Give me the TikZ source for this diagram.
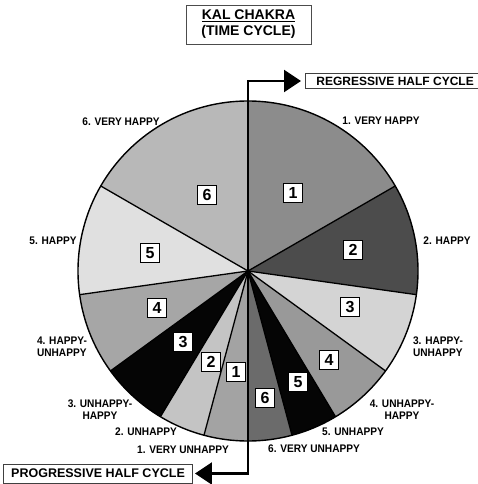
\documentclass[tikz,border=0pt]{standalone}
\usepackage{fontspec}
\setmainfont{Liberation Sans}
\usetikzlibrary{arrows.meta,positioning}

\definecolor{rone}{gray}{0.55}
\definecolor{rtwo}{gray}{0.30}
\definecolor{rthree}{gray}{0.83}
\definecolor{rfour}{gray}{0.60}
\definecolor{rfive}{gray}{0.02}
\definecolor{rsix}{gray}{0.42}
\definecolor{lone}{gray}{0.64}
\definecolor{ltwo}{gray}{0.77}
\definecolor{lthree}{gray}{0.02}
\definecolor{lfour}{gray}{0.65}
\definecolor{lfive}{gray}{0.88}
\definecolor{lsix}{gray}{0.72}

\newcommand{\pierad}{170}
\newcommand{\pieslice}[3]{\fill[#3] (O) -- (#1:\pierad) arc[start angle=#1,end angle=#2,radius=\pierad] -- cycle;}

\tikzset{
  lbl/.style={font=\fontsize{11}{12}\selectfont\bfseries,xscale=0.92,inner sep=0pt},
  numbox/.style={draw,fill=white,line width=0.9pt,minimum size=19pt,inner sep=0pt,font=\fontsize{16}{16}\selectfont\bfseries},
  halfbox/.style={draw=black!75,fill=white,line width=0.9pt,font=\fontsize{12.5}{12.5}\selectfont\bfseries,inner ysep=0pt},
  cyclearrow/.style={line width=2.5pt,-{Triangle[length=17pt,width=22pt]}}
}

\begin{document}
\begin{tikzpicture}[x=1pt,y=1pt]
	\useasboundingbox (-248,-213) rectangle (229,271);
	\coordinate (O) at (0,0);
	% regressive half
	\pieslice{90}{30}{rone}
	\pieslice{30}{-8}{rtwo}
	\pieslice{-8}{-36}{rthree}
	\pieslice{-36}{-59}{rfour}
	\pieslice{-59}{-75}{rfive}
	\pieslice{-75}{-90}{rsix}
	% progressive half
	\pieslice{-90}{-105}{lone}
	\pieslice{-105}{-121}{ltwo}
	\pieslice{-121}{-144}{lthree}
	\pieslice{-144}{-172}{lfour}
	\pieslice{-172}{-210}{lfive}
	\pieslice{150}{90}{lsix}
	\foreach \a in {30,-8,-36,-59,-75,-105,-121,-144,-172,150}
		\draw[line width=1.3pt] (O) -- (\a:\pierad);
	\draw[line width=1.4pt] (O) circle[radius=\pierad];

	\node(title) [draw=black!70,line width=0.9pt,fill=white,align=center,minimum width=125pt,minimum height=39pt,font=\fontsize{14}{16}\selectfont\bfseries] at (0.5,246.5) {\underline{KAL CHAKRA}\\(TIME CYCLE)};
	\node(reg) [halfbox,anchor=west,minimum height=15pt,inner xsep=11pt,font=\fontsize{12}{12}\selectfont\bfseries] at (57,190) {REGRESSIVE HALF CYCLE};
	\node(prog) [halfbox,anchor=east,minimum height=19pt,minimum width=189pt] at (-55,-202.5) {PROGRESSIVE HALF CYCLE};
	\draw[cyclearrow,shorten >=4pt] (O) |- (reg.west);
	\draw[cyclearrow,shorten >=2pt] (O) |- (prog.east);

	\node(r1) [numbox] at (45,78) {1};
	\node(r2) [numbox] at (105,21) {2};
	\node(r3) [numbox] at (102,-36) {3};
	\node(r4) [numbox] at (81,-89) {4};
	\node(r5) [numbox] at (50,-111) {5};
	\node(r6) [numbox] at (17,-127) {6};
	\node(l1) [numbox] at (-12,-101) {1};
	\node(l2) [numbox] at (-37,-91) {2};
	\node(l3) [numbox] at (-65,-71) {3};
	\node(l4) [numbox] at (-91,-37) {4};
	\node(l5) [numbox] at (-98,18) {5};
	\node(l6) [numbox] at (-41,76) {6};

	\node(tr1) [lbl] at (133,150) {1. VERY HAPPY};
	\node(tr2) [lbl] at (199,30) {2. HAPPY};
	\node(tr3) [lbl,align=left] at (190,-76) {3. HAPPY-\\UNHAPPY};
	\node(tr4) [lbl,align=center] at (154,-139) {4. UNHAPPY-\\HAPPY};
	\node(tr5) [lbl] at (105,-161) {5. UNHAPPY};
	\node(tr6) [lbl] at (66,-178) {6. VERY UNHAPPY};
	\node(tl1) [lbl] at (-65,-179) {1. VERY UNHAPPY};
	\node(tl2) [lbl] at (-102,-161) {2. UNHAPPY};
	\node(tl3) [lbl,align=center] at (-148,-139) {3. UNHAPPY-\\HAPPY};
	\node(tl4) [lbl,align=left] at (-186,-76) {4. HAPPY-\\UNHAPPY};
	\node(tl5) [lbl] at (-195,30) {5. HAPPY};
	\node(tl6) [lbl] at (-127,149) {6. VERY HAPPY};
\end{tikzpicture}
\end{document}
